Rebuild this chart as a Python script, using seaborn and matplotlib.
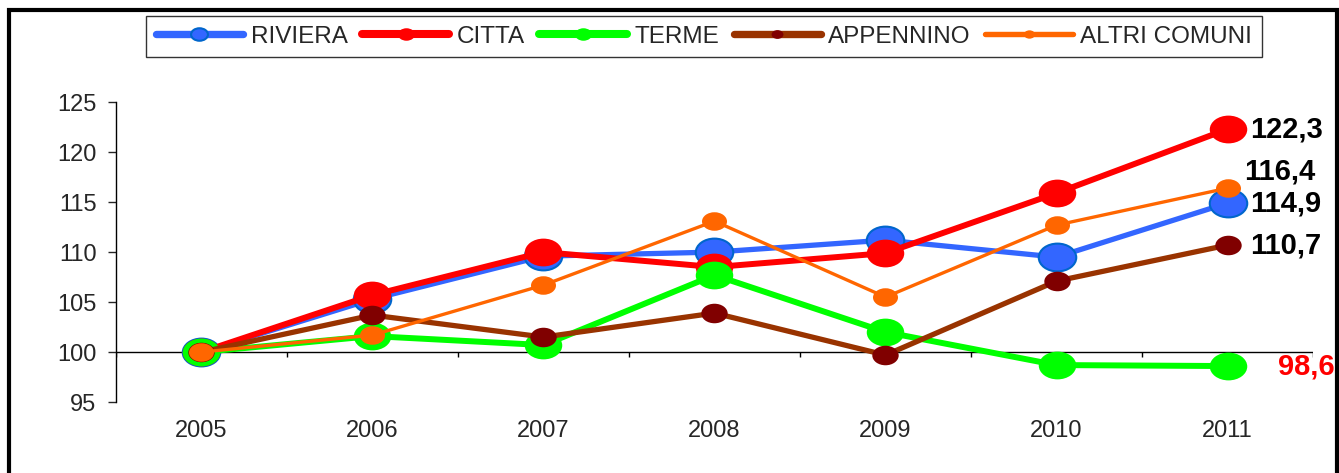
import numpy as np
import pandas as pd
import matplotlib
matplotlib.use('Agg')
import matplotlib.pyplot as plt
import seaborn as sns
from matplotlib.path import Path
from matplotlib.transforms import Affine2D
from matplotlib.lines import Line2D
from matplotlib.patches import Rectangle

years = ['2005', '2006', '2007', '2008', '2009', '2010', '2011']
riviera = [100, 105.3, 109.6, 110.0, 111.2, 109.5, 114.9]
citta = [100, 105.7, 110.0, 108.5, 109.9, 115.9, 122.3]
terme = [100, 101.6, 100.7, 107.7, 102.0, 98.7, 98.6]
appennino = [100, 103.7, 101.5, 103.9, 99.7, 107.1, 110.7]
altri = [100, 101.7, 106.7, 113.1, 105.5, 112.7, 116.4]
end_labels = ['114,9', '122,3', '98,6', '110,7', '116,4']

sns.set_style('white')
plt.rcParams['font.family'] = ['Liberation Sans', 'DejaVu Sans']

# elliptical marker (the original chart is stretched horizontally)
ell = Path.unit_circle().transformed(Affine2D().scale(1.35, 1.0))

series = [
    ('RIVIERA', riviera, '#3366FF', '#3366FF', '#0066CC', 3.8, 27),
    ('CITTA', citta, '#FF0000', '#FF0000', '#FF0000', 4.3, 27),
    ('TERME', terme, '#00FF00', '#00FF00', '#00FF00', 4.3, 27),
    ('APPENNINO', appennino, '#993300', '#800000', '#800000', 3.8, 19),
    ('ALTRI COMUNI', altri, '#FF6600', '#FF6600', '#FF6600', 2.4, 18),
]

fig = plt.figure(figsize=(13.39, 4.73), dpi=100)
ax = fig.add_axes([0.0866, 0.150, 0.894, 0.634])

x = np.arange(len(years))
handles = []
for name, vals, lc, fc, ec, lw, ms in series:
    df = pd.DataFrame({'x': x, 'y': vals})
    sns.lineplot(data=df, x='x', y='y', ax=ax, color=lc, linewidth=lw,
                 marker=ell, markersize=ms, markerfacecolor=fc,
                 markeredgecolor=ec, markeredgewidth=1.5 if name == 'RIVIERA' else 0)
    handles.append(Line2D([], [], color=lc, lw=lw + 1.5, marker=ell, markersize=ms * 0.45,
                          markerfacecolor=fc, markeredgecolor=ec,
                          markeredgewidth=1.5 if name == 'RIVIERA' else 0,
                          solid_capstyle='round', label=name))

# end labels
offsets = [(16, 0), (16, 0), (36, 0), (16, 0), (12, 12)]
for (name, vals, lc, fc, ec, lw, ms), lab, off in zip(series, end_labels, offsets):
    ax.annotate(lab, (x[-1], vals[-1]), xytext=off, textcoords='offset points',
                ha='left', va='center', fontsize=21, fontweight='bold',
                color='#FF0000' if name == 'TERME' else 'black')

ax.set_xlim(-0.5, 6.5)
ax.set_ylim(95, 125)
ax.set_yticks(range(95, 126, 5))
ax.set_xticks(x)
ax.set_xticklabels(years)
ax.set_xlabel('')
ax.set_ylabel('')
for s in ['top', 'right', 'bottom']:
    ax.spines[s].set_visible(False)
ax.spines['left'].set_color('black')
ax.spines['left'].set_linewidth(1)
ax.tick_params(axis='y', length=6, width=1, direction='out', left=True, labelsize=17, pad=8)
ax.tick_params(axis='x', length=0, labelsize=17, pad=13)

# horizontal axis at 100 with category boundary ticks
ax.axhline(100, color='black', lw=1, zorder=1)
ax.vlines(np.arange(-0.5, 7, 1.0), 99.55, 100, color='black', lw=1, zorder=1)

leg = fig.legend(handles=handles, loc='upper left', bbox_to_anchor=(146 / 1339, 1 - 16 / 473),
                 ncol=5, frameon=True, fontsize=17.5, handlelength=3.6, handletextpad=0.3,
                 columnspacing=0.6, borderpad=0.4, borderaxespad=0, fancybox=False)
leg.get_frame().set_edgecolor('black')
leg.get_frame().set_linewidth(1)

fig.patches.append(Rectangle((9 / 1339, -0.1), 1328 / 1339, 1.1 - 10 / 473,
                             transform=fig.transFigure, fill=False, edgecolor='black', lw=3))

fig.savefig('out.png', dpi=100)
